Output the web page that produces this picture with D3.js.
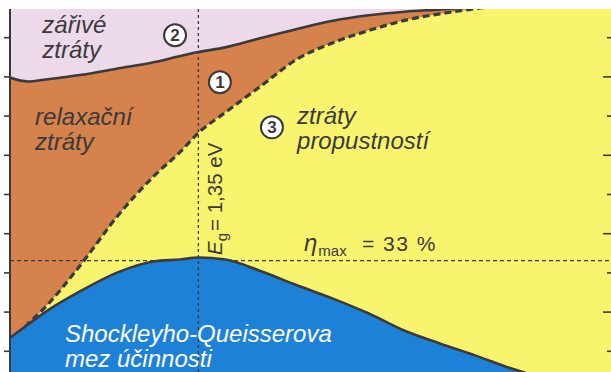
<!DOCTYPE html>
<html><head><meta charset="utf-8">
<script src="https://cdn.jsdelivr.net/npm/d3@7"></script>
<style>html,body{margin:0;padding:0;background:#fff;}svg{display:block}</style>
</head><body><svg id="c" width="611" height="372"></svg>
<script>
// ---- data (band-gap energy in eV, percentages of incident solar power) ----
const energies        = [0.3, 0.4, 0.5, 0.7, 0.9, 1.1, 1.25, 1.35, 1.5, 1.7, 1.9, 2.1, 2.3, 2.5, 2.7, 2.9, 3.1, 3.3, 3.5, 3.65];
const efficiency      = [13.3,16.7,20.0,25.4,30.0,32.8,33.3,33.8,33.3,30.3,26.7,23.3,19.5,15.1,11.8,8.7,5.4,2.8,1.2,0.5];
const transmissionTop = [12.0,16.8,21.3,32.3,44.4,54.5,60.8,65.6,70.8,77.6,84.4,88.6,91.7,94.3,96.0,97.3,98.5,99.2,99.6,99.8];
const relaxationTop   = [79.7,78.7,79.2,80.4,82.0,83.6,85.2,86.2,87.4,89.8,92.1,94.2,95.6,96.5,97.1,97.8,98.6,99.2,99.5,99.7];
const optimumGap = 1.35;
const etaMax = 33;
const leftTicks = [10,20,30,40,50,60,70,80,90];
const rightMajorTicks = [20,40,60,80];
const rightMinorTicks = [10,30,50,70,90];
const regionLabels = [
  {lines:["zářivé","ztráty"], e:0.48, v:[91.1,84.7]},
  {lines:["relaxační","ztráty"], e:0.44, v:[67.7,61.3]},
  {lines:["ztráty","propustností"], e:1.9, v:[67.9,61.5]}
];
const circleMarks = [{n:"2", e:1.22, v:90.5},{n:"1", e:1.47, v:78.5},{n:"3", e:1.76, v:67.0}];
const sqLabel = ["Shockleyho-Queisserova","mez účinnosti"];

// ---- layout ----
const W = 611, H = 372;
const plot = {left:10, right:611, top:9, bottom:372};
const x = d3.scaleLinear().domain([0.3, 3.65]).range([10, 611]);
const y = d3.scaleLinear().domain([0, 100]).range([390, -2]);

const C = {pink:"#ecd9ea", orange:"#d5824d", yellow:"#f9f46e", blue:"#1e81d8", ink:"#3a3a3c"};
const font = "'Liberation Sans', Arial, sans-serif";

const svg = d3.select("#c");
svg.append("rect").attr("width",W).attr("height",H).attr("fill","#fff");
svg.append("defs").append("clipPath").attr("id","clip").append("rect")
  .attr("x",plot.left).attr("y",plot.top).attr("width",plot.right-plot.left).attr("height",plot.bottom-plot.top);
const g = svg.append("g").attr("clip-path","url(#clip)");

const pts = arr => energies.map((e,i)=>[e,arr[i]]);
const area = d3.area().x(d=>x(d[0])).y0(y(0)).y1(d=>y(d[1])).curve(d3.curveMonotoneX);
const line = d3.line().x(d=>x(d[0])).y(d=>y(d[1])).curve(d3.curveMonotoneX);

g.append("rect").attr("x",plot.left).attr("y",plot.top).attr("width",plot.right-plot.left).attr("height",plot.bottom-plot.top).attr("fill",C.pink);
g.append("path").attr("d",area(pts(relaxationTop))).attr("fill",C.orange);
g.append("path").attr("d",area(pts(transmissionTop))).attr("fill",C.yellow);
// eta max line
g.append("line").attr("x1",plot.left).attr("x2",plot.right).attr("y1",y(etaMax)).attr("y2",y(etaMax))
  .attr("stroke",C.ink).attr("stroke-width",1.3).attr("stroke-dasharray","4,3");
g.append("path").attr("d",line(pts(relaxationTop))).attr("fill","none").attr("stroke",C.ink).attr("stroke-width",2.6);
g.append("path").attr("d",line(pts(transmissionTop))).attr("fill","none").attr("stroke",C.ink).attr("stroke-width",3.2).attr("stroke-dasharray","7,4");
g.append("path").attr("d",area(pts(efficiency))).attr("fill",C.blue);
g.append("path").attr("d",line(pts(efficiency))).attr("fill","none").attr("stroke",C.ink).attr("stroke-width",2.6);
// optimum gap line
g.append("line").attr("x1",x(optimumGap)).attr("x2",x(optimumGap)).attr("y1",plot.top).attr("y2",plot.bottom)
  .attr("stroke",C.ink).attr("stroke-width",1.3).attr("stroke-dasharray","3,3");

// axes
const yl = d3.axisLeft(y).tickValues(leftTicks).tickSize(6).tickFormat("");
const ax = svg.append("g").attr("transform",`translate(${plot.left},0)`).call(yl);
ax.select(".domain").remove();
ax.selectAll("line").attr("stroke",C.ink).attr("stroke-width",1.6);
svg.append("line").attr("x1",plot.left).attr("x2",plot.left).attr("y1",plot.top).attr("y2",plot.bottom).attr("stroke",C.ink).attr("stroke-width",2);
const rMaj = svg.append("g").attr("transform",`translate(${plot.right},0)`).call(d3.axisLeft(y).tickValues(rightMajorTicks).tickSize(8).tickFormat(""));
const rMin = svg.append("g").attr("transform",`translate(${plot.right},0)`).call(d3.axisLeft(y).tickValues(rightMinorTicks).tickSize(4).tickFormat(""));
[rMaj,rMin].forEach(a=>{a.select(".domain").remove();a.selectAll("line").attr("stroke",C.ink).attr("stroke-width",1.6);});

// region labels
regionLabels.forEach(l=>{
  l.lines.forEach((t,i)=>{
    svg.append("text").attr("x",x(l.e)).attr("y",y(l.v[i])).text(t)
      .attr("font-family",font).attr("font-style","italic").attr("font-size",24).attr("fill",C.ink);
  });
});
// circled numbers
circleMarks.forEach(c=>{
  svg.append("circle").attr("cx",x(c.e)).attr("cy",y(c.v)).attr("r",11).attr("fill","#fff").attr("stroke",C.ink).attr("stroke-width",2);
  svg.append("text").attr("x",x(c.e)).attr("y",y(c.v)+6).attr("text-anchor","middle").text(c.n)
    .attr("font-family",font).attr("font-weight","bold").attr("font-size",17).attr("fill",C.ink);
});
// Eg label (rotated)
const eg = svg.append("text").attr("transform",`translate(${x(optimumGap)+24},255) rotate(-90)`)
  .attr("font-family",font).attr("font-size",20.5).attr("fill",C.ink);
eg.append("tspan").text("E").attr("font-style","italic");
eg.append("tspan").text("g").attr("font-size",15).attr("dy",5);
eg.append("tspan").text("= 1,35 eV").attr("dy",-5).attr("dx",2);
// eta label
const et = svg.append("text").attr("x",304).attr("y",y(etaMax)-10)
  .attr("font-family",font).attr("font-size",21).attr("fill",C.ink);
et.append("tspan").text("η").attr("font-style","italic").attr("font-size",24);
et.append("tspan").text("max").attr("font-size",15).attr("dy",5).attr("dx",1);
et.append("tspan").text("= 33 %").attr("x",362).attr("dy",-5).attr("letter-spacing",1.5);
// SQ label
sqLabel.forEach((t,i)=>{
  svg.append("text").attr("x",65).attr("y",342+i*25).text(t)
    .attr("font-family",font).attr("font-style","italic").attr("font-size",24).attr("fill","#fff");
});
</script></body></html>
